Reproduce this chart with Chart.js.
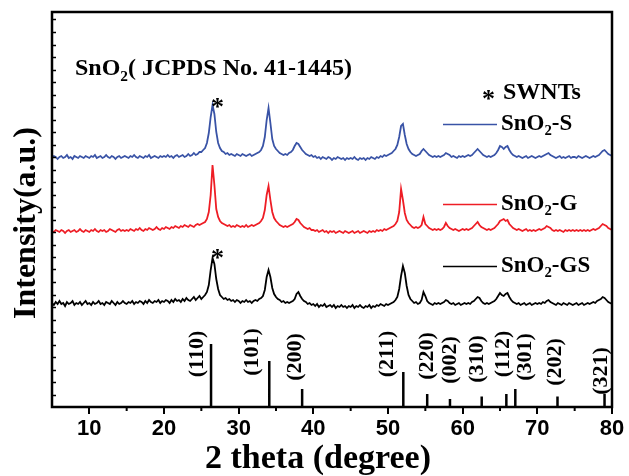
<!DOCTYPE html>
<html><head><meta charset="utf-8">
<script src="https://cdn.jsdelivr.net/npm/chart.js@4.4.0/dist/chart.umd.min.js"></script>
<style>html,body{margin:0;padding:0;background:#fff;}#wrap{width:629px;height:476px;}</style>
</head><body><div id="wrap"><canvas id="c" width="629" height="476"></canvas></div>
<script>
// ---- data ----
const twoThetaStart = 5, twoThetaStep = 0.25;   // scan grid (degrees)
const seriesNames = ['SnO2-S', 'SnO2-G', 'SnO2-GS'];
const intensityS = [
249,251,250,248,250,251,249,250,252,249,250,248,251,250,249,251,250,249,251,250,
249,251,250,252,249,250,251,249,250,252,250,249,251,250,248,250,251,249,250,251,
250,249,251,250,252,250,249,251,250,249,251,250,252,249,250,251,250,249,251,250,
251,250,252,250,251,249,251,252,250,251,252,250,251,253,251,252,254,252,253,255,
255,257,259,264,274,290,302,293,275,264,259,256,255,253,254,252,253,252,251,253,
252,251,253,252,251,252,253,251,252,253,254,255,257,261,270,287,299,284,268,261,
258,256,254,253,252,253,252,254,255,257,261,264,263,260,257,255,253,252,251,252,
250,251,249,250,248,250,249,248,250,249,247,249,248,250,249,248,249,247,249,248,
249,248,250,248,247,249,248,249,247,249,248,250,249,248,250,249,251,250,252,251,
252,253,254,256,258,262,270,281,283,272,263,258,255,253,252,251,252,253,256,258,
256,254,252,251,250,251,250,251,250,251,252,254,253,252,250,251,250,249,251,250,
251,250,251,252,251,252,254,256,258,256,254,252,251,250,251,250,251,252,254,257,
261,260,258,260,261,257,254,252,251,250,251,250,249,250,251,249,250,251,250,249,
250,251,250,251,252,253,254,252,251,250,249,250,251,249,250,249,250,251,249,250,
250,249,251,250,249,250,251,250,249,250,251,250,251,252,254,256,257,255,253,252,
251];
const intensityG = [
176,175,177,176,175,177,176,174,176,177,175,176,177,175,176,178,176,175,177,176,
175,177,176,178,176,175,177,176,177,175,176,178,177,176,175,177,178,176,177,176,
177,176,178,177,176,178,177,179,177,176,178,177,179,178,177,178,180,178,177,179,
178,180,179,178,180,179,181,180,179,181,180,182,181,180,182,181,180,182,183,182,
183,184,185,188,195,212,242,222,198,190,186,184,183,182,181,182,180,181,180,182,
181,180,181,180,182,180,181,182,181,182,183,184,186,189,197,212,221,207,195,189,
186,184,182,181,180,181,180,181,182,183,185,188,187,184,182,180,179,178,179,177,
177,176,177,175,176,177,175,176,174,176,175,176,174,175,176,175,174,176,175,174,
175,176,174,175,176,174,175,176,175,174,176,175,176,175,177,176,177,176,178,177,
178,179,180,181,183,186,195,218,207,194,187,184,182,180,179,180,179,180,182,190,
183,181,179,178,177,178,177,178,177,178,180,184,181,179,178,177,178,177,176,177,
178,177,178,177,178,179,181,183,185,182,180,179,178,177,178,177,178,179,181,183,
186,187,188,186,187,183,181,179,178,177,178,177,176,177,178,176,177,176,177,176,
177,178,177,178,179,181,180,179,177,176,177,176,177,176,175,177,176,177,176,177,
176,177,176,177,176,177,176,177,176,177,178,177,178,179,181,183,182,181,179,178,
177];
const intensityGS = [
104,102,105,103,106,103,104,101,105,103,104,106,102,104,103,105,102,104,106,103,
104,102,105,103,104,106,103,104,102,105,104,103,106,104,102,105,103,104,106,104,
103,105,104,106,103,105,104,106,105,103,106,104,107,105,104,106,105,107,104,106,
105,107,106,104,107,105,108,106,107,105,108,106,109,107,106,108,110,107,109,111,
108,110,112,115,122,137,149,143,128,118,112,110,108,109,107,108,106,107,105,107,
106,104,106,105,107,105,106,104,106,107,106,108,109,111,117,130,137,130,119,113,
110,108,107,105,106,104,105,104,105,106,108,113,115,111,108,106,105,103,104,102,
103,101,103,100,102,101,103,100,101,102,100,102,99,101,100,102,100,101,99,101,
100,102,99,101,100,102,100,99,101,100,102,99,101,100,102,101,103,102,101,103,
102,103,104,105,107,110,118,131,141,134,121,112,108,106,104,105,103,104,107,115,
111,106,104,103,102,104,103,104,103,104,105,107,106,104,103,104,102,103,104,102,
103,104,103,104,103,105,106,108,110,109,106,104,103,104,103,104,105,106,108,111,
114,112,111,113,114,110,107,105,104,103,104,102,103,104,102,103,104,102,103,104,
103,104,103,105,104,106,107,105,104,103,102,104,103,102,104,103,102,104,103,102,
103,104,102,103,104,102,103,104,103,104,105,104,106,107,108,110,109,107,105,104,
103];
// JCPDS 41-1445 reference lines
const refPositions = [26.3, 34.1, 38.5, 52.05, 55.25, 58.3, 62.55, 65.85, 67.05, 72.7, 79.0];
const refIntensity = [63, 46, 18, 35, 13, 8, 10.5, 13, 18, 10.5, 13];
const refHkl = ['(110)','(101)','(200)','(211)','(220)','(002)','(310)','(112)','(301)','(202)','(321)'];
const xTickValues = [10, 20, 30, 40, 50, 60, 70, 80];
const xMinorTickValues = [15, 25, 35, 45, 55, 65, 75];
const starPeak = 26.5; // SWNT-marked peak
const xTitle = '2 theta (degree)';
const yTitle = 'Intensity(a.u.)';

// ---- styles / layout ----
const colors = ['#3953a6', '#ee1d25', '#000000'];
const labelDx = [-14, -17, -7, -16, 0, 0, -4, -3, 10, -2, -3];
const labelCy = [354, 352, 357, 354, 356, 360, 359, 354, 357, 362, 371];
const legendY = [124, 204, 266];
const serif = '"Liberation Serif","Times New Roman",serif';
const sans = '"Liberation Sans",Arial,sans-serif';

const xs = intensityS.map((_, i) => twoThetaStart + i * twoThetaStep);
const mk = arr => arr.map((v, i) => ({x: xs[i], y: v}));
const stickData = [];
refPositions.forEach((p, i) => { stickData.push({x:p, y:0}, {x:p, y:refIntensity[i]}, {x:p, y:null}); });

function drawRich(ctx, x, y, parts, size) {
  let cx = x;
  for (const [t, sub] of parts) {
    const fs = sub ? size * 0.64 : size;
    ctx.font = 'bold ' + fs + 'px ' + serif;
    ctx.fillText(t, cx, sub ? y + size * 0.32 : y);
    cx += ctx.measureText(t).width;
  }
}

const decor = {
  id: 'decor',
  afterDatasetsDraw(chart) {
    const ctx = chart.ctx, a = chart.chartArea;
    const xS = chart.scales.x, yS = chart.scales.y;
    ctx.save();
    ctx.fillStyle = '#000'; ctx.strokeStyle = '#000';
    // frame
    ctx.lineWidth = 2.5;
    ctx.strokeRect(a.left, a.top, a.right - a.left, a.bottom - a.top);
    // left inward ticks
    ctx.lineWidth = 1.5;
    for (let v = 12.5; v < yS.max; v += 12.5) {
      const py = Math.round(yS.getPixelForValue(v)) + 0.5;
      ctx.beginPath(); ctx.moveTo(a.left, py); ctx.lineTo(a.left + 4, py); ctx.stroke();
    }
    // minor x ticks
    ctx.lineWidth = 2;
    xMinorTickValues.forEach(v => {
      const px = xS.getPixelForValue(v);
      ctx.beginPath(); ctx.moveTo(px, a.bottom); ctx.lineTo(px, a.bottom + 4); ctx.stroke();
    });
    // hkl labels
    ctx.font = 'bold 22px ' + serif;
    ctx.textAlign = 'center'; ctx.textBaseline = 'middle';
    refHkl.forEach((t, i) => {
      const px = xS.getPixelForValue(refPositions[i]) + labelDx[i];
      ctx.save(); ctx.translate(px, labelCy[i]); ctx.rotate(-Math.PI / 2);
      ctx.fillText(t, 0, 0); ctx.restore();
    });
    // stars
    ctx.font = 'bold 26px ' + serif;
    ctx.textBaseline = 'alphabetic';
    const si = Math.round((starPeak - twoThetaStart) / twoThetaStep);
    [intensityS, intensityGS].forEach((arr, k) => {
      const px = xS.getPixelForValue(starPeak) + 5;
      const py = yS.getPixelForValue(arr[si]) + (k === 0 ? 10 : 8);
      ctx.fillText('*', px, py);
    });
    // axis titles
    ctx.font = 'bold 32px ' + serif;
    ctx.textBaseline = 'middle';
    ctx.save(); ctx.translate(27, 223); ctx.rotate(-Math.PI / 2);
    ctx.fillText(yTitle, 0, 0); ctx.restore();
    ctx.font = 'bold 34px ' + serif;
    ctx.textBaseline = 'alphabetic';
    ctx.fillText(xTitle, 318, 468);
    // annotations
    ctx.textAlign = 'left';
    ctx.textBaseline = 'middle';
    drawRich(ctx, 75, 69, [['SnO', false], ['2', true], ['( JCPDS No. 41-1445)', false]], 24);
    ctx.font = 'bold 26px ' + serif;
    ctx.fillText('*', 482, 100);
    ctx.font = 'bold 24px ' + serif;
    ctx.fillText('SWNTs', 503, 93);
    // legend
    const suffix = ['-S', '-G', '-GS'];
    seriesNames.forEach((n, i) => {
      ctx.strokeStyle = colors[i]; ctx.lineWidth = 1.3;
      ctx.beginPath(); ctx.moveTo(443, legendY[i] + 0.5); ctx.lineTo(497, legendY[i] + 0.5); ctx.stroke();
      ctx.fillStyle = '#000';
      drawRich(ctx, 501, legendY[i], [['SnO', false], ['2', true], [suffix[i], false]], 23);
    });
    ctx.restore();
  }
};

new Chart(document.getElementById('c'), {
  type: 'line',
  data: {
    datasets: [
      {label: seriesNames[0], data: mk(intensityS), borderColor: colors[0], borderWidth: 1.8, pointRadius: 0, tension: 0},
      {label: seriesNames[1], data: mk(intensityG), borderColor: colors[1], borderWidth: 1.8, pointRadius: 0, tension: 0},
      {label: seriesNames[2], data: mk(intensityGS), borderColor: colors[2], borderWidth: 1.8, pointRadius: 0, tension: 0},
      {label: 'JCPDS 41-1445', data: stickData, borderColor: '#000', borderWidth: 2.5, pointRadius: 0, spanGaps: false, borderCapStyle: 'butt'}
    ]
  },
  options: {
    responsive: false, animation: false, events: [],
    layout: {padding: {left: 52, right: 17, top: 12, bottom: 0}},
    plugins: {legend: {display: false}, tooltip: {enabled: false}},
    scales: {
      x: {
        type: 'linear', min: 5, max: 80,
        afterBuildTicks(s) { s.ticks = xTickValues.map(v => ({value: v})); },
        afterFit(s) { s.height = 69; },
        ticks: {color: '#000', font: {family: sans, size: 22, weight: 'bold'}, padding: 2, maxRotation: 0},
        grid: {display: true, drawOnChartArea: false, drawTicks: true, tickLength: 7, color: '#000', lineWidth: 2},
        border: {display: false},
        title: {display: false}
      },
      y: {type: 'linear', min: 0, max: 395, display: false}
    }
  },
  plugins: [decor]
});
</script>
</body></html>
